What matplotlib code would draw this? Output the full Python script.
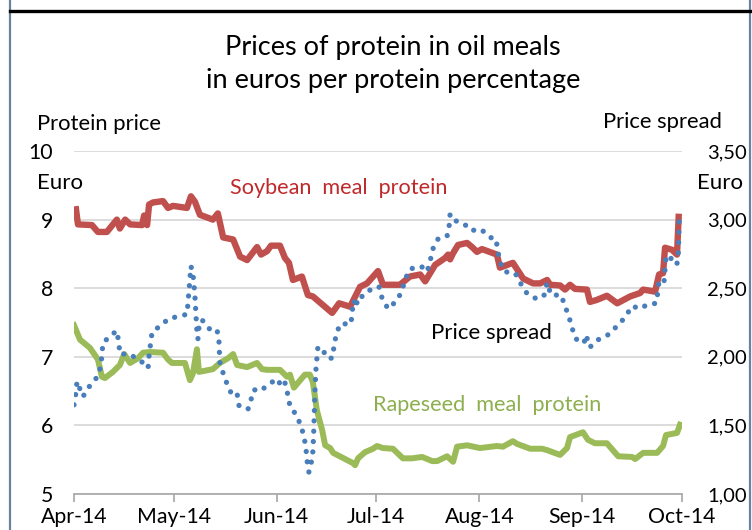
import matplotlib
matplotlib.use("Agg")
import matplotlib.pyplot as plt
from matplotlib.lines import Line2D

plt.rcParams["font.family"] = ["Lato", "DejaVu Sans"]

# x values are days after 1 April 2014
soy_days = [0.6, 1.2, 5.4, 7.2, 9.9, 12.9, 13.8, 15.4, 16.9, 20.5, 21.1, 22.0, 22.6,
            23.8, 26.8, 28.3, 29.8, 34.0, 35.2, 36.4, 37.9, 41.8, 43.3, 44.9, 47.9,
            50.0, 52.1, 55.1, 56.3, 58.1, 59.3, 62.0, 63.5, 64.7, 65.9, 68.6, 70.4,
            71.9, 77.7, 79.8, 83.1, 86.1, 88.2, 91.5, 93.0, 98.1, 101.1, 104.2, 105.7,
            108.7, 111.7, 112.6, 113.2, 114.1, 115.6, 118.3, 119.8, 121.3, 122.8,
            127.3, 128.2, 132.1, 135.2, 138.2, 140.3, 142.4, 143.3, 146.3, 147.8,
            149.3, 150.8, 154.4, 155.3, 157.4, 160.4, 163.5, 167.4, 170.4, 171.3,
            174.9, 176.1, 177.3, 177.9, 180.0, 181.5, 182.0]
soy_price = [9.15, 8.93, 8.92, 8.82, 8.82, 9.0, 8.87, 9.0, 8.93, 8.92, 9.06, 8.92, 9.22,
             9.25, 9.27, 9.17, 9.2, 9.17, 9.34, 9.26, 9.07, 9.0, 9.09, 8.74, 8.71,
             8.46, 8.41, 8.6, 8.49, 8.54, 8.62, 8.62, 8.44, 8.37, 8.12, 8.17, 7.9,
             7.88, 7.64, 7.78, 7.73, 8.02, 8.07, 8.25, 8.05, 8.05, 8.17, 8.2, 8.1,
             8.34, 8.44, 8.49, 8.42, 8.51, 8.63, 8.66, 8.6, 8.53, 8.57,
             8.49, 8.3, 8.37, 8.14, 8.07, 8.07, 8.12, 8.05, 8.04, 7.98,
             8.05, 7.99, 7.98, 7.8, 7.83, 7.89, 7.78, 7.88, 7.93, 7.98,
             7.95, 8.2, 8.22, 8.59, 8.56, 8.49, 9.04]

rape_days = [0.0, 0.6, 1.8, 4.8, 7.2, 8.4, 9.3, 11.7, 13.8, 15.1, 16.9, 19.3, 20.8,
             22.9, 26.8, 28.3, 29.5, 33.4, 34.9, 35.8, 37.0, 37.6, 41.8, 43.9, 46.4,
             47.9, 49.1, 52.1, 55.1, 56.6, 58.1, 62.0, 64.1, 65.0, 66.2, 67.4, 69.5,
             71.0, 71.9, 73.1, 74.7, 75.6, 77.1, 78.0, 84.0, 84.6, 85.5, 87.6, 90.0,
             91.2, 93.0, 96.0, 99.0, 101.7, 104.8, 107.8, 109.3, 112.3, 114.1, 115.3,
             118.3, 122.2, 127.3, 129.1, 132.1, 133.4, 137.3, 140.9, 142.4, 146.3,
             148.4, 149.3, 153.2, 154.7, 156.8, 160.4, 163.8, 168.0, 168.9, 171.3,
             175.5, 177.3, 178.2, 181.5, 182.4]
rape_price = [7.46, 7.39, 7.25, 7.13, 6.96, 6.71, 6.69, 6.78, 6.88, 7.04, 6.91, 6.98, 7.06,
              7.07, 7.06, 6.96, 6.91, 6.91, 6.66, 6.76, 7.11, 6.78, 6.82, 6.91, 6.98,
              7.04, 6.88, 6.85, 6.91, 6.82, 6.81, 6.81, 6.71, 6.74, 6.55, 6.62, 6.74,
              6.74, 6.63, 6.22, 5.93, 5.71, 5.67, 5.6, 5.45, 5.42, 5.52, 5.61, 5.66,
              5.7, 5.67, 5.66, 5.52, 5.52, 5.54, 5.48, 5.48, 5.55, 5.47, 5.69,
              5.71, 5.67, 5.7, 5.69, 5.77, 5.73, 5.66, 5.66, 5.64, 5.57,
              5.67, 5.83, 5.9, 5.79, 5.74, 5.74, 5.55, 5.54, 5.51, 5.6,
              5.6, 5.7, 5.86, 5.89, 6.01]

spread_days = [0.0, 0.6, 0.9, 2.7, 4.5, 6.9, 8.1, 8.7, 10.8, 12.9, 13.5, 13.8, 16.9,
               19.6, 21.7, 22.3, 22.6, 23.5, 26.2, 28.6, 30.7, 34.0, 34.3, 35.2, 35.8,
               36.4, 37.0, 37.3, 37.6, 38.5, 40.9, 43.0, 43.6, 43.9, 44.9, 46.1, 47.6,
               49.1, 49.7, 52.4, 54.2, 56.0, 58.7, 61.1, 62.6, 63.5, 64.4, 65.0, 66.8,
               68.3, 69.2, 69.8, 70.1, 70.7, 71.3, 71.9, 72.2, 72.5, 72.8, 73.4, 74.7,
               76.2, 77.7, 78.3, 78.9, 80.1, 83.4, 83.7, 84.3, 84.9, 85.5, 87.0, 89.7,
               91.8, 92.7, 94.5, 97.2, 98.7, 99.6, 101.1, 104.5, 106.3, 107.2, 108.1,
               109.6, 112.3, 112.9, 113.2, 115.0, 117.4, 119.5, 122.5, 125.2, 127.0,
               127.6, 128.2, 129.7, 132.8, 134.3, 136.4, 139.4, 141.5, 142.4, 143.6,
               146.6, 147.8, 149.0, 149.9, 151.1, 153.5, 154.1, 155.3, 157.4, 160.7,
               161.9, 163.8, 165.9, 168.0, 170.4, 172.5, 175.2, 175.8, 176.1, 177.6,
               178.2, 179.1, 180.9, 181.5, 181.9, 182.2]
spread = [1.65, 1.74, 1.82, 1.71, 1.78, 1.85, 1.93, 2.10, 2.15, 2.19, 2.10, 2.02, 2.02,
          1.97, 1.95, 1.92, 2.01, 2.18, 2.23, 2.28, 2.29, 2.31, 2.39, 2.66, 2.61,
          2.44, 2.18, 2.13, 2.21, 2.27, 2.20, 2.20, 2.13, 1.96, 1.88, 1.80, 1.72,
          1.73, 1.64, 1.62, 1.76, 1.75, 1.80, 1.84, 1.78, 1.81, 1.72, 1.64, 1.58,
          1.50, 1.42, 1.34, 1.25, 1.16, 1.21, 1.31, 1.48, 1.73, 1.90, 2.07, 2.06,
          1.99, 1.99, 2.08, 2.16, 2.24, 2.24, 2.33, 2.41, 2.36, 2.44, 2.44, 2.50,
          2.51, 2.43, 2.35, 2.41, 2.48, 2.56, 2.64, 2.66, 2.62, 2.70, 2.79,
          2.86, 2.88, 2.95, 3.04, 2.99, 2.97, 2.92, 2.93, 2.87, 2.86,
          2.77, 2.69, 2.62, 2.61, 2.54, 2.46, 2.42, 2.45, 2.54, 2.45,
          2.45, 2.37, 2.29, 2.21, 2.13, 2.10, 2.16, 2.07, 2.12, 2.16,
          2.19, 2.23, 2.29, 2.37, 2.35, 2.38, 2.39, 2.48, 2.56, 2.55,
          2.73, 2.74, 2.67, 2.68, 2.76, 3.02]

month_days = [0, 30, 61, 91, 122, 153, 183]
month_labels = ["Apr-14", "May-14", "Jun-14", "Jul-14", "Aug-14", "Sep-14", "Oct-14"]
left_ticks = [5, 6, 7, 8, 9, 10]
right_ticks = [1.0, 1.5, 2.0, 2.5, 3.0, 3.5]

red = "#C0504D"
green = "#9BBB59"
blue = "#4A7EBB"

fig = plt.figure(figsize=(7.52, 5.30), dpi=100)
ax = fig.add_axes([0.0984, 0.0679, 0.8085, 0.6472])
ax2 = ax.twinx()

ax.plot(rape_days, rape_price, color=green, lw=4.3, solid_joinstyle="round", zorder=3)
ax.plot(soy_days, soy_price, color=red, lw=4.6, solid_joinstyle="round", zorder=3)
ax2.plot(spread_days, spread, color=blue, lw=3.8, linestyle=(0, (0.01, 1.95)),
         dash_capstyle="round", zorder=4)

ax.set_xlim(0, 183)
ax.set_ylim(5, 10)
ax2.set_ylim(1, 3.5)
ax.set_yticks(left_ticks)
ax.set_yticklabels([str(t) for t in left_ticks])
ax2.set_yticks(right_ticks)
ax2.set_yticklabels([f"{t:.2f}".replace(".", ",") for t in right_ticks])
ax.set_xticks(month_days)
ax.set_xticklabels(month_labels)

ax.grid(axis="y", color="#D9D9D9", lw=1.3)
ax.set_axisbelow(True)
for a in (ax, ax2):
    for side in ("top", "left", "right"):
        a.spines[side].set_visible(False)
    a.spines["bottom"].set_color("#A6A6A6")
    a.spines["bottom"].set_linewidth(1.2)
ax.tick_params(axis="x", length=6, width=1.2, color="#A6A6A6", labelsize=15.3, pad=3)
ax.tick_params(axis="y", length=0, labelsize=15.3, pad=15)
ax2.tick_params(axis="y", length=0, labelsize=14.5, pad=18)
ax2.spines["bottom"].set_visible(False)

# titles and axis captions
fig.text(0.523, 0.911, "Prices of protein in oil meals", ha="center", va="center",
         fontsize=19.5)
fig.text(0.523, 0.849, "in euros per protein percentage", ha="center", va="center",
         fontsize=19.5)
fig.text(0.049, 0.766, "Protein price", ha="left", va="center", fontsize=15.8)
fig.text(0.960, 0.770, "Price spread", ha="right", va="center", fontsize=15.8)
fig.text(0.049, 0.655, "Euro", ha="left", va="center", fontsize=16)
fig.text(0.988, 0.655, "Euro", ha="right", va="center", fontsize=16)

# series labels
fig.text(0.450, 0.645, "Soybean  meal  protein", ha="center", va="center",
         fontsize=15.6, color="#C0292B")
fig.text(0.654, 0.372, "Price spread", ha="center", va="center", fontsize=16,
         color="black")
fig.text(0.648, 0.236, "Rapeseed  meal  protein", ha="center", va="center",
         fontsize=15.6, color="#8DAF4F")

# page frame
fig.add_artist(Line2D([0.0133, 0.0133], [0, 1], color="#6A82A0", lw=1.6))
fig.add_artist(Line2D([0.9973, 0.9973], [0, 1], color="#6A82A0", lw=1.6))
fig.add_artist(Line2D([0.0133, 0.9973], [0.979, 0.979], color="black", lw=2.4))

fig.savefig("out.png", dpi=100)
